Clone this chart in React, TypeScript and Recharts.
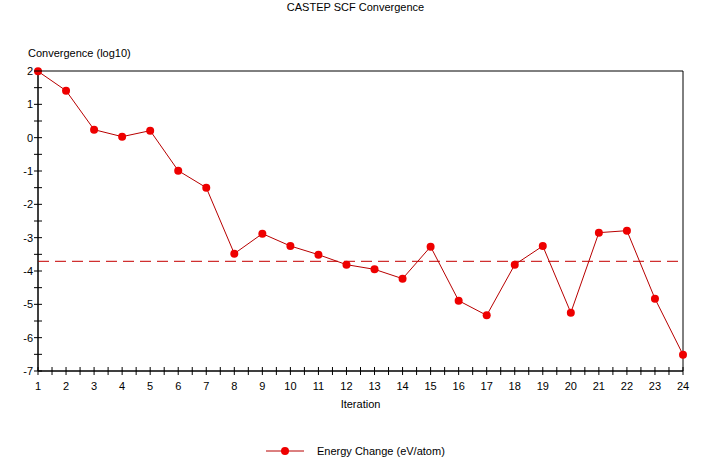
import React from 'react';
import {
  LineChart, Line, XAxis, YAxis, ReferenceLine, ReferenceArea, Legend,
} from 'recharts';

const iterations = [1, 2, 3, 4, 5, 6, 7, 8, 9, 10, 11, 12, 13, 14, 15, 16, 17, 18, 19, 20, 21, 22, 23, 24];
const energyChange = [1.99, 1.41, 0.24, 0.03, 0.21, -0.99, -1.5, -3.48, -2.88, -3.25, -3.51, -3.81,
  -3.95, -4.23, -3.27, -4.89, -5.33, -3.81, -3.25, -5.25, -2.85, -2.79, -4.83, -6.51];
const threshold = -3.71;
const xTicks = [1, 1.5, 2, 2.5, 3, 3.5, 4, 4.5, 5, 5.5, 6, 6.5, 7, 7.5, 8, 8.5, 9, 9.5, 10, 10.5, 11, 11.5,
  12, 12.5, 13, 13.5, 14, 14.5, 15, 15.5, 16, 16.5, 17, 17.5, 18, 18.5, 19, 19.5, 20, 20.5, 21, 21.5,
  22, 22.5, 23, 23.5, 24];
const yTicks = [-7, -6.5, -6, -5.5, -5, -4.5, -4, -3.5, -3, -2.5, -2, -1.5, -1, -0.5, 0, 0.5, 1, 1.5, 2];

const data = iterations.map((it, i) => ({ it, e: energyChange[i] }));

const FONT = '"Liberation Sans", Arial, sans-serif';
const LINE = '#b80000';
const DOT = '#ee0000';

const XTick = ({ x, y, payload }: any) => {
  const v = payload.value;
  const major = Number.isInteger(v);
  return (
    <g>
      <line x1={x} x2={x} y1={y - 4} y2={y + 4} stroke="#000" />
      {major && (
        <text x={x} y={y + 19} textAnchor="middle" fontSize={11} fontFamily={FONT} fill="#000">{v}</text>
      )}
    </g>
  );
};

const YTick = ({ x, y, payload }: any) => {
  const v = payload.value;
  const major = Number.isInteger(v);
  return (
    <g>
      <line x1={x - 4} x2={x + 4} y1={y} y2={y} stroke="#000" />
      {major && (
        <text x={x - 5} y={y + 4} textAnchor="end" fontSize={11} fontFamily={FONT} fill="#000">{v}</text>
      )}
    </g>
  );
};

const LegendContent = () => (
  <svg width={711} height={20} style={{ overflow: 'visible' }}>
    <line x1={266} x2={304} y1={10} y2={10} stroke={LINE} />
    <circle cx={285} cy={10} r={4} fill={DOT} />
    <text x={317} y={14} fontSize={11} fontFamily={FONT} fill="#000">Energy Change (eV/atom)</text>
  </svg>
);

export default function App() {
  return (
    <div style={{ position: 'absolute', left: 0, top: 0, width: 711, height: 463, background: '#fff', fontFamily: FONT }}>
      <div style={{ position: 'absolute', left: 0, top: 0, width: 711, textAlign: 'center', fontSize: 11, lineHeight: '14px' }}>
        CASTEP SCF Convergence
      </div>
      <div style={{ position: 'absolute', left: 28, top: 46, fontSize: 11, lineHeight: '14px' }}>
        Convergence (log10)
      </div>
      <LineChart width={711} height={463} data={data} margin={{ top: 71, right: 28, bottom: 0, left: 8 }}>
        <XAxis
          dataKey="it" type="number" domain={[1, 24]} ticks={xTicks} interval={0}
          tickSize={0} tickMargin={0} tick={<XTick />} axisLine={{ stroke: '#000' }} height={92}
          label={{ value: 'Iteration', position: 'insideTop', dy: 24, fontSize: 11, fontFamily: FONT, fill: '#000' }}
        />
        <YAxis
          type="number" domain={[-7, 2]} ticks={yTicks} interval={0}
          tickSize={0} tickMargin={0} tick={<YTick />} axisLine={{ stroke: '#000' }} width={30}
        />
        <ReferenceArea x1={1} x2={24} y1={-7} y2={2} fill="none" stroke="#000" strokeWidth={1} ifOverflow="visible" />
        <ReferenceLine y={threshold} stroke="#d03030" strokeDasharray="11 6" strokeWidth={1.2} />
        <Line
          dataKey="e" stroke={LINE} strokeWidth={1} isAnimationActive={false}
          dot={{ r: 4, fill: DOT, stroke: DOT, strokeWidth: 0 }} activeDot={false}
        />
        <Legend
          content={<LegendContent />}
          wrapperStyle={{ position: 'absolute', left: 0, top: 441, width: 711, height: 0 }}
        />
      </LineChart>
    </div>
  );
}
